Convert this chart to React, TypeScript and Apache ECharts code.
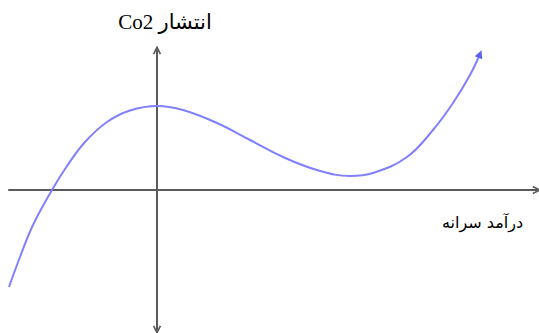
import React, { useEffect, useRef } from "react";
import * as echarts from "echarts";

// Curve points (x: income, y: CO2 emission)
const curveX = [-2.96, -2.74, -2.48, -2.1, -1.8, -1.44, -1.0, -0.54, 0, 0.52, 1.2, 1.86, 2.52, 3.2, 3.86, 4.32, 5.0, 5.52, 5.92, 6.26, 6.46];
const curveY = [-1.94, -1.34, -0.7, 0, 0.48, 0.96, 1.36, 1.59, 1.68, 1.6, 1.34, 1.0, 0.66, 0.4, 0.28, 0.34, 0.66, 1.2, 1.74, 2.3, 2.72];

const yAxisTitle = "\u202Bانتشار Co2\u202C";
const xAxisTitle = "درآمد سرانه";

const chevron = "path://M0,10 L5,0 L10,10 L8.2,10.8 L5,4.2 L1.8,10.8 Z";

export default function App() {
  const ref = useRef<HTMLDivElement>(null);
  useEffect(() => {
    document.body.style.margin = "0";
    if (!ref.current) return;
    const chart = echarts.init(ref.current, undefined, { renderer: "svg" });
    const last = curveX.length - 1;
    const data = curveX.map((x, i) =>
      i === last
        ? { value: [x, curveY[i]], symbol: "triangle", symbolSize: 8, symbolRotate: -22 }
        : { value: [x, curveY[i]], symbol: "none" }
    );
    chart.setOption({
      animation: false,
      backgroundColor: "#ffffff",
      grid: { left: 9, right: 2, top: 50, bottom: 3 },
      xAxis: {
        type: "value",
        min: -2.96,
        max: 7.6,
        axisLine: {
          onZero: true,
          symbol: ["none", chevron],
          symbolSize: [12, 9],
          lineStyle: { color: "#5a5a5a", width: 2 },
        },
        axisTick: { show: false },
        axisLabel: { show: false },
        splitLine: { show: false },
      },
      yAxis: {
        type: "value",
        min: -2.8,
        max: 2.8,
        name: yAxisTitle,
        nameLocation: "end",
        nameGap: 18,
        nameTextStyle: {
          color: "#000",
          fontSize: 21,
          fontFamily: "'Liberation Serif', 'DejaVu Sans', serif",
          align: "center",
          padding: [0, 0, 0, 16],
        },
        axisLine: {
          onZero: true,
          symbol: [chevron, chevron],
          symbolSize: [12, 9],
          lineStyle: { color: "#5a5a5a", width: 2 },
        },
        axisTick: { show: false },
        axisLabel: { show: false },
        splitLine: { show: false },
      },
      graphic: [
        {
          type: "text",
          right: 16,
          top: 214,
          style: {
            text: xAxisTitle,
            fill: "#000",
            fontSize: 16,
            fontFamily: "'DejaVu Sans', sans-serif",
          },
        },
      ],
      series: [
        {
          type: "line",
          smooth: 0.4,
          data,
          itemStyle: { color: "#5f5ff5" },
          lineStyle: { color: "#8080ff", width: 2 },
          z: 1,
        },
      ],
    });
    return () => chart.dispose();
  }, []);
  return <div ref={ref} style={{ width: 539, height: 333 }} />;
}
